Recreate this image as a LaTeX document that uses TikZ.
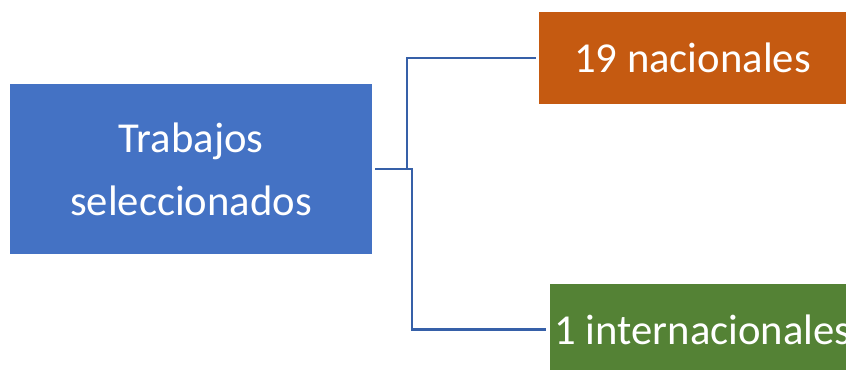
\documentclass[tikz,border=0pt]{standalone}
\usepackage{fontspec}
\setmainfont{Carlito}
\definecolor{boxblue}{HTML}{4472C4}
\definecolor{boxorange}{HTML}{C55A11}
\definecolor{boxgreen}{HTML}{548235}
\definecolor{linkblue}{HTML}{3660A8}
\begin{document}
\begin{tikzpicture}[x=0.75pt,y=-0.75pt,
  box/.style={draw=none, inner sep=0pt, text=white, align=center,
    font=\fontsize{32pt}{47.25pt}\selectfont},
  link/.style={draw=linkblue, line width=1.6pt, shorten <=2.25pt, shorten >=2.25pt}]
\useasboundingbox (0,0) rectangle (846,369);
\clip (0,0) rectangle (846,369);
\node[box, fill=boxblue, minimum width=271.5pt, minimum height=127.5pt] (main) at (191,169) {Trabajos\\seleccionados};
\node[box, fill=boxorange, minimum width=230.25pt, minimum height=69pt] (nac) at (692.5,58) {19 nacionales};
\node[box, fill=boxgreen, minimum width=230.25pt, minimum height=69pt] (int) at (703,329.5) {1 internacionales};
\draw[link] (main.east) -- ++(35,0) |- (nac.west);
\draw[link] (main.east) -- ++(40,0) |- (int.west);
\end{tikzpicture}
\end{document}
